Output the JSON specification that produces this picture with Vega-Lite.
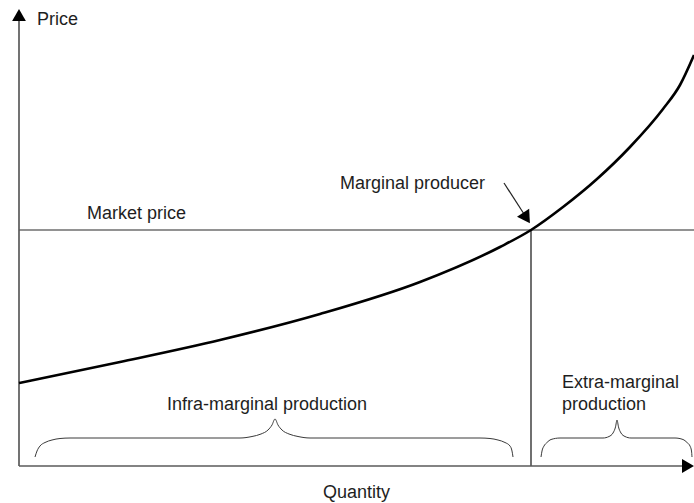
{
  "$schema": "https://vega.github.io/schema/vega-lite/v6.json",
  "width": 694,
  "height": 503,
  "autosize": {"type": "none"},
  "padding": 0,
  "background": "white",
  "config": {"view": {"stroke": null}},
  "datasets": {
    "curve": [
      {"q": 0, "p": 83}, {"q": 101, "p": 104}, {"q": 201, "p": 126}, {"q": 301, "p": 152},
      {"q": 401, "p": 184}, {"q": 481, "p": 219}, {"q": 512, "p": 236}, {"q": 544, "p": 259},
      {"q": 578, "p": 287}, {"q": 611, "p": 319}, {"q": 644, "p": 357}, {"q": 661, "p": 381},
      {"q": 675, "p": 411}
    ],
    "axes": [
      {"name": "Price axis", "q": 0, "p": 0, "q2": 0, "p2": 447},
      {"name": "Quantity axis", "q": 0, "p": 0, "q2": 668, "p2": 0}
    ],
    "market": [{"q": 0, "p": 236, "q2": 675, "p2": 236}],
    "marginal": [{"q": 512, "p": 0, "q2": 512, "p2": 236}],
    "pointer": [{"q": 485, "p": 283, "q2": 505, "p2": 252}],
    "headUp": [{"q": 0, "p": 451}],
    "headRight": [{"q": 669, "p": 0}],
    "headPointer": [{"q": 507.5, "p": 248}],
    "braces": [
      {"brace": "infra", "i": 1, "q": 16, "p": 9}, {"brace": "infra", "i": 2, "q": 18, "p": 15},
      {"brace": "infra", "i": 3, "q": 21, "p": 20}, {"brace": "infra", "i": 4, "q": 26, "p": 23.5},
      {"brace": "infra", "i": 5, "q": 33, "p": 26}, {"brace": "infra", "i": 6, "q": 41, "p": 27.5},
      {"brace": "infra", "i": 7, "q": 51, "p": 28}, {"brace": "infra", "i": 8, "q": 221, "p": 28},
      {"brace": "infra", "i": 9, "q": 233, "p": 29.5}, {"brace": "infra", "i": 10, "q": 242, "p": 32},
      {"brace": "infra", "i": 11, "q": 249, "p": 36}, {"brace": "infra", "i": 12, "q": 253, "p": 41},
      {"brace": "infra", "i": 13, "q": 256, "p": 47}, {"brace": "infra", "i": 14, "q": 259, "p": 41},
      {"brace": "infra", "i": 15, "q": 263, "p": 36}, {"brace": "infra", "i": 16, "q": 270, "p": 32},
      {"brace": "infra", "i": 17, "q": 279, "p": 29.5}, {"brace": "infra", "i": 18, "q": 291, "p": 28},
      {"brace": "infra", "i": 19, "q": 461, "p": 28}, {"brace": "infra", "i": 20, "q": 471, "p": 27.5},
      {"brace": "infra", "i": 21, "q": 479, "p": 26}, {"brace": "infra", "i": 22, "q": 486, "p": 23.5},
      {"brace": "infra", "i": 23, "q": 491, "p": 20}, {"brace": "infra", "i": 24, "q": 493, "p": 15},
      {"brace": "infra", "i": 25, "q": 494, "p": 9},
      {"brace": "extra", "i": 1, "q": 522, "p": 9}, {"brace": "extra", "i": 2, "q": 523, "p": 15},
      {"brace": "extra", "i": 3, "q": 525, "p": 20}, {"brace": "extra", "i": 4, "q": 528, "p": 23.5},
      {"brace": "extra", "i": 5, "q": 532, "p": 26.5}, {"brace": "extra", "i": 6, "q": 541, "p": 28},
      {"brace": "extra", "i": 7, "q": 584, "p": 28}, {"brace": "extra", "i": 8, "q": 590, "p": 29.5},
      {"brace": "extra", "i": 9, "q": 594, "p": 33}, {"brace": "extra", "i": 10, "q": 596.5, "p": 39},
      {"brace": "extra", "i": 11, "q": 598, "p": 46}, {"brace": "extra", "i": 12, "q": 599.5, "p": 39},
      {"brace": "extra", "i": 13, "q": 602, "p": 33}, {"brace": "extra", "i": 14, "q": 606, "p": 29.5},
      {"brace": "extra", "i": 15, "q": 612, "p": 28}, {"brace": "extra", "i": 16, "q": 656, "p": 28},
      {"brace": "extra", "i": 17, "q": 664, "p": 26.5}, {"brace": "extra", "i": 18, "q": 668, "p": 23.5},
      {"brace": "extra", "i": 19, "q": 671, "p": 20}, {"brace": "extra", "i": 20, "q": 672.5, "p": 15},
      {"brace": "extra", "i": 21, "q": 673, "p": 9}
    ],
    "labels": [
      {"label": "Price", "q": 18, "p": 441},
      {"label": "Market price", "q": 68, "p": 247},
      {"label": "Marginal producer", "q": 321, "p": 277},
      {"label": "Infra-marginal production", "q": 148, "p": 56},
      {"label": "Extra-marginal", "q": 543, "p": 78},
      {"label": "production", "q": 543, "p": 56},
      {"label": "Quantity", "q": 304, "p": -32}
    ]
  },
  "encoding": {
    "x": {"field": "q", "type": "quantitative", "scale": {"domain": [-19, 675], "nice": false, "zero": false}, "axis": null},
    "y": {"field": "p", "type": "quantitative", "scale": {"domain": [-37, 466], "nice": false, "zero": false}, "axis": null}
  },
  "layer": [
    {
      "data": {"name": "market"},
      "mark": {"type": "rule", "color": "#6e6e6e", "strokeWidth": 1.6},
      "encoding": {"x2": {"field": "q2"}, "y2": {"field": "p2"}}
    },
    {
      "data": {"name": "marginal"},
      "mark": {"type": "rule", "color": "#111111", "strokeWidth": 1.2},
      "encoding": {"x2": {"field": "q2"}, "y2": {"field": "p2"}}
    },
    {
      "data": {"name": "axes"},
      "mark": {"type": "rule", "color": "#5a5a5a", "strokeWidth": 1.7},
      "encoding": {"x2": {"field": "q2"}, "y2": {"field": "p2"}}
    },
    {
      "data": {"name": "braces"},
      "mark": {"type": "line", "color": "#3a3a3a", "strokeWidth": 1, "interpolate": "monotone"},
      "encoding": {"detail": {"field": "brace", "type": "nominal"}, "order": {"field": "i", "type": "quantitative"}}
    },
    {
      "data": {"name": "curve"},
      "mark": {"type": "line", "color": "#000000", "strokeWidth": 2.6, "interpolate": "monotone"},
      "encoding": {}
    },
    {
      "data": {"name": "pointer"},
      "mark": {"type": "rule", "color": "#222222", "strokeWidth": 1.2},
      "encoding": {"x2": {"field": "q2"}, "y2": {"field": "p2"}}
    },
    {
      "data": {"name": "headPointer"},
      "mark": {"type": "point", "shape": "triangle-up", "filled": true, "color": "#000000", "size": 210, "angle": 147, "opacity": 1},
      "encoding": {}
    },
    {
      "data": {"name": "headUp"},
      "mark": {"type": "point", "shape": "triangle-up", "filled": true, "color": "#000000", "size": 190, "opacity": 1},
      "encoding": {}
    },
    {
      "data": {"name": "headRight"},
      "mark": {"type": "point", "shape": "triangle-right", "filled": true, "color": "#000000", "size": 190, "opacity": 1},
      "encoding": {}
    },
    {
      "data": {"name": "labels"},
      "mark": {"type": "text", "align": "left", "baseline": "alphabetic", "font": "Liberation Sans", "fontSize": 18, "color": "#1e1e1e"},
      "encoding": {"text": {"field": "label", "type": "nominal"}}
    }
  ]
}
